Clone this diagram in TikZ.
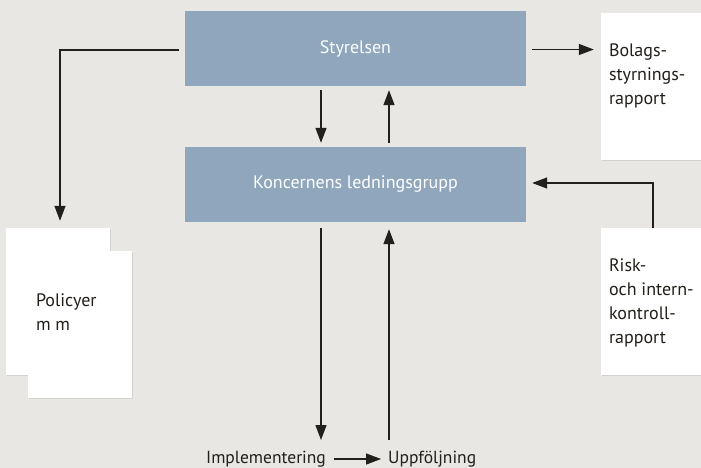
\documentclass[tikz,border=0pt]{standalone}
\usepackage{fontspec}
\setmainfont{PT Sans}
\usetikzlibrary{positioning,calc,arrows.meta,shadows}
\definecolor{bgGray}{HTML}{E8E7E3}
\definecolor{boxBlue}{HTML}{8FA6BC}
\definecolor{inkDark}{HTML}{231F1A}

\tikzset{
  bluebox/.style={fill=boxBlue, minimum width=341pt, minimum height=75pt,
    inner sep=0pt, text=white, font=\fontsize{18}{20}\selectfont},
  paper/.style={fill=white, minimum width=104pt, minimum height=147pt, inner sep=0pt,
    drop shadow={opacity=0.2, shadow xshift=1.2pt, shadow yshift=-1.2pt}},
  papertext/.style={anchor=north west, inner sep=0pt, align=left, text=inkDark,
    font=\fontsize{18}{24}\selectfont},
  steptext/.style={inner sep=0pt, text=inkDark, font=\fontsize{17.5}{20}\selectfont},
  flow/.style={draw=inkDark, line width=1.3pt, -{Triangle[length=15pt,width=11pt]}},
}

\begin{document}
\begin{tikzpicture}[x=1pt,y=-1pt]
	\useasboundingbox (0,0) rectangle (701,468);
	\fill[bgGray] (0,0) rectangle (701,468);

	% the two blue boxes
	\node[bluebox] (sty) at (355.5,48.5) {Styrelsen};
	\node[bluebox] (kon) at (355.5,184.5) {Koncernens ledningsgrupp};

	% the papers
	\node[paper] (bol) at (653,86.5) {};
	\node[paper] (risk) at (653,301.5) {};
	\node[paper] (polB) at (58,301.5) {};
	\node[paper] (polF) at (80,324.5) {};

	\node[papertext] (bolT) at ([shift={(8,31)}]bol.north west) {Bolags-\\styrnings-\\rapport};
	\node[papertext] (riskT) at ([shift={(8,31)}]risk.north west) {Risk-\\och intern-\\kontroll-\\rapport};
	\node[papertext] (polT) at ([shift={(8,43)}]polF.north west) {Policyer\\m m};

	% bottom row
	\node[steptext] (impl) at (266,459) {Implementering};
	\node[steptext, right=62pt of impl] (upp) {Uppföljning};
	\coordinate (dn) at (321,440);
	\coordinate (up) at (389,440);

	\draw[flow] ($(sty.south)+(-34.5,4)$) -- ($(kon.north)+(-34.5,-4)$);
	\draw[flow] ($(kon.north)+(33.5,-4)$) -- ($(sty.south)+(33.5,4)$);
	\draw[flow] ($(sty.west)+(-6,1.5)$) -| ($(polB.north)+(2,-7)$);
	\draw[flow] ($(sty.east)+(6,1)$) -- ($(sty.east -| bol.west)+(-7,1)$);
	\draw[flow] (risk.north) |- ($(kon.east)+(6,-1.5)$);
	\draw[flow] ($(kon.south)+(-34.5,6)$) -- (dn);
	\draw[flow] (up) -- ($(kon.south)+(33.5,7)$);
	\draw[flow] ([xshift=8pt]impl.east) -- ([xshift=-7pt]upp.west);
\end{tikzpicture}
\end{document}
